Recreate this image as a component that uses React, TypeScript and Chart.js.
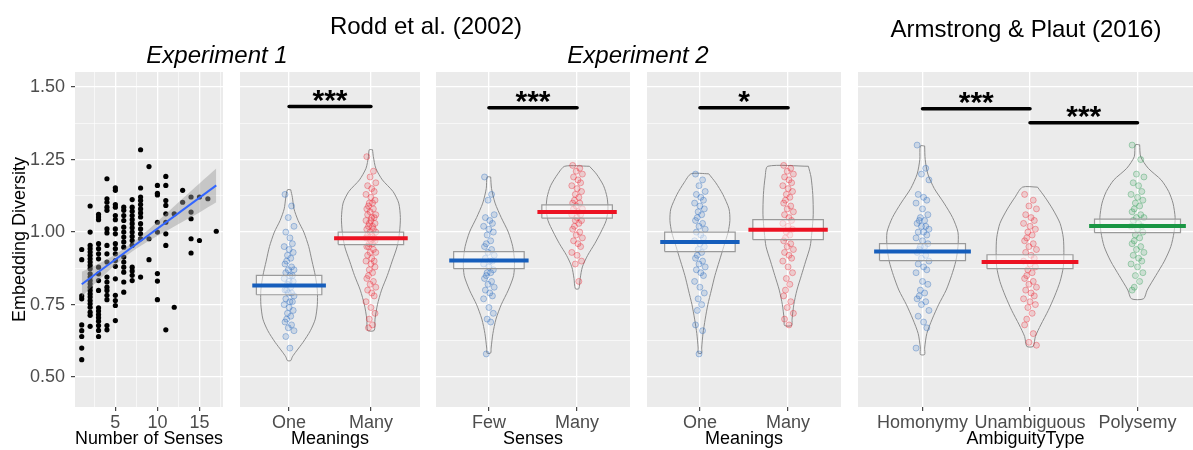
import React, { useEffect, useRef } from "react";
import { Chart, registerables } from "chart.js";

Chart.register(...registerables);

const FONT = "'Liberation Sans', Arial, sans-serif";

// ---------- shared y axis ----------
const Y_MIN = 0.397;
const Y_MAX = 1.552;
const Y_GRID = [0.5, 0.625, 0.75, 0.875, 1.0, 1.125, 1.25, 1.375, 1.5];

// ---------- Panel 1: Experiment 1 scatter ----------
const SENSES_X = [1, 2, 3, 4, 5, 6, 7, 8, 9, 10, 11, 12, 13, 14, 15, 16, 17];
const SENSES_Y: number[][] = [
  [0.94, 0.905, 0.78, 0.77, 0.68, 0.66, 0.64, 0.6, 0.56],
  [1.09, 1.0, 0.954, 0.943, 0.931, 0.92, 0.908, 0.897, 0.885, 0.874, 0.856, 0.845, 0.833, 0.822, 0.81, 0.799, 0.787, 0.776, 0.764, 0.753, 0.741, 0.724, 0.713, 0.675],
  [1.061, 1.052, 1.043, 0.96, 0.943, 0.925, 0.908, 0.879, 0.856, 0.833, 0.799, 0.739, 0.728, 0.716, 0.705, 0.693, 0.678, 0.661, 0.64],
  [1.184, 1.115, 1.103, 1.086, 1.075, 1.011, 0.997, 0.954, 0.925, 0.897, 0.845, 0.828, 0.81, 0.799, 0.782, 0.767, 0.678, 0.663],
  [1.153, 1.144, 1.095, 1.086, 1.057, 1.043, 1.011, 0.994, 0.96, 0.943, 0.925, 0.902, 0.882, 0.839, 0.782, 0.764, 0.747, 0.695],
  [1.086, 1.075, 1.057, 1.04, 1.017, 1.0, 0.983, 0.966, 0.948, 0.914, 0.897, 0.879, 0.862, 0.828, 0.793],
  [1.112, 1.086, 1.072, 1.057, 1.043, 1.029, 1.015, 1.0, 0.985, 0.971, 0.954, 0.879, 0.866, 0.851, 0.833],
  [1.284, 1.152, 1.121, 1.109, 1.095, 1.08, 1.066, 1.052, 1.029, 1.011, 0.994, 0.977, 0.845],
  [1.226, 0.977, 0.905],
  [1.161, 1.134, 1.128, 1.034, 1.0, 0.857, 0.831, 0.767],
  [1.192, 1.161, 1.109, 1.092, 1.063, 1.034, 0.994, 0.954, 0.663],
  [1.063, 0.741],
  [1.144, 1.103],
  [1.121, 1.069, 1.046, 0.977, 0.928],
  [1.121, 0.971],
  [1.115],
  [1.003],
];
const X1_GRID = [2.5, 5, 7.5, 10, 12.5, 15, 17.5];
const FIT_X = [1, 17];
const FIT_Y = [0.82, 1.161];
const BAND_X = [1, 3, 5, 7, 9, 11, 13, 15, 17];
const BAND_LO = [0.777, 0.835, 0.887, 0.933, 0.97, 1.003, 1.036, 1.068, 1.103];
const BAND_HI = [0.863, 0.891, 0.923, 0.963, 1.01, 1.063, 1.116, 1.168, 1.219];

// ---------- colours ----------
const BLUE = [22, 94, 188];
const RED = [236, 18, 34];
const GREEN = [26, 150, 68];

// jitter pattern (category units)
const JITTER = [-0.05, 0.03, -0.01, 0.06, -0.04, 0.01, 0.04, -0.06, 0.0, 0.05, -0.02, 0.02, -0.03];

// ---------- Panel 2: Experiment 1, Meanings ----------
const P2_CATS = ["One", "Many"];
const P2_MEANS = [0.816, 0.979];
const P2_CI_LO = [0.784, 0.957];
const P2_CI_HI = [0.851, 1.0];
const P2_ONE_VIOLIN = [[1.146, 0.02], [1.12, 0.04], [1.08, 0.06], [1.04, 0.11], [1.0, 0.18], [0.95, 0.24], [0.9, 0.28], [0.85, 0.32], [0.8, 0.345], [0.75, 0.345], [0.7, 0.32], [0.66, 0.26], [0.62, 0.17], [0.59, 0.09], [0.57, 0.04], [0.557, 0.02]];
const P2_MANY_VIOLIN = [[1.284, 0.02], [1.26, 0.03], [1.22, 0.06], [1.18, 0.14], [1.14, 0.27], [1.1, 0.34], [1.05, 0.36], [1.0, 0.35], [0.95, 0.32], [0.9, 0.26], [0.85, 0.2], [0.8, 0.13], [0.75, 0.08], [0.7, 0.05], [0.661, 0.04]];
const P2_ONE_PTS = [1.13, 1.09, 1.05, 1.02, 1.0, 0.98, 0.96, 0.95, 0.94, 0.93, 0.92, 0.91, 0.9, 0.89, 0.88, 0.87, 0.87, 0.86, 0.85, 0.85, 0.84, 0.83, 0.83, 0.82, 0.81, 0.8, 0.8, 0.79, 0.79, 0.78, 0.77, 0.76, 0.76, 0.75, 0.74, 0.73, 0.72, 0.71, 0.7, 0.69, 0.68, 0.67, 0.66, 0.64, 0.6];
const P2_MANY_PTS = [1.26, 1.21, 1.19, 1.17, 1.16, 1.15, 1.14, 1.13, 1.12, 1.11, 1.1, 1.1, 1.09, 1.08, 1.08, 1.07, 1.06, 1.06, 1.05, 1.05, 1.04, 1.04, 1.03, 1.03, 1.02, 1.02, 1.01, 1.01, 1.0, 1.0, 0.99, 0.99, 0.98, 0.98, 0.97, 0.97, 0.96, 0.96, 0.95, 0.95, 0.94, 0.93, 0.93, 0.92, 0.91, 0.9, 0.9, 0.89, 0.88, 0.87, 0.86, 0.85, 0.84, 0.83, 0.82, 0.81, 0.8, 0.79, 0.78, 0.76, 0.74, 0.72, 0.7, 0.68, 0.67];
const P2_SIG_FROM = [1];
const P2_SIG_TO = [2];
const P2_SIG_Y = [1.433];
const P2_SIG_LABEL = ["***"];

// ---------- Panel 3: Experiment 2, Senses ----------
const P3_CATS = ["Few", "Many"];
const P3_MEANS = [0.902, 1.069];
const P3_CI_LO = [0.874, 1.048];
const P3_CI_HI = [0.933, 1.094];
const P3_FEW_VIOLIN = [[1.19, 0.02], [1.15, 0.03], [1.1, 0.07], [1.05, 0.14], [1.0, 0.22], [0.95, 0.27], [0.9, 0.29], [0.85, 0.28], [0.8, 0.22], [0.75, 0.14], [0.7, 0.08], [0.65, 0.045], [0.6, 0.025], [0.583, 0.02]];
const P3_MANY_VIOLIN = [[1.227, 0.14], [1.2, 0.22], [1.16, 0.3], [1.12, 0.34], [1.08, 0.35], [1.04, 0.33], [1.0, 0.27], [0.96, 0.2], [0.92, 0.12], [0.88, 0.06], [0.84, 0.035], [0.805, 0.02]];
const P3_FEW_PTS = [1.19, 1.13, 1.11, 1.06, 1.05, 1.04, 1.03, 1.02, 1.01, 1.0, 0.99, 0.97, 0.96, 0.95, 0.94, 0.93, 0.92, 0.91, 0.9, 0.9, 0.89, 0.88, 0.87, 0.86, 0.86, 0.85, 0.84, 0.83, 0.82, 0.81, 0.8, 0.79, 0.78, 0.77, 0.74, 0.72, 0.7, 0.69, 0.58];
const P3_MANY_PTS = [1.23, 1.22, 1.21, 1.2, 1.19, 1.18, 1.17, 1.16, 1.15, 1.14, 1.13, 1.12, 1.11, 1.1, 1.1, 1.09, 1.08, 1.08, 1.07, 1.06, 1.06, 1.05, 1.04, 1.04, 1.03, 1.02, 1.01, 1.0, 0.99, 0.98, 0.97, 0.96, 0.95, 0.93, 0.92, 0.9, 0.89, 0.83];
const P3_SIG_FROM = [1];
const P3_SIG_TO = [2];
const P3_SIG_Y = [1.429];
const P3_SIG_LABEL = ["***"];

// ---------- Panel 4: Experiment 2, Meanings ----------
const P4_CATS = ["One", "Many"];
const P4_MEANS = [0.966, 1.008];
const P4_CI_LO = [0.933, 0.974];
const P4_CI_HI = [1.0, 1.043];
const P4_ONE_VIOLIN = [[1.201, 0.1], [1.17, 0.18], [1.13, 0.26], [1.08, 0.33], [1.04, 0.34], [1.0, 0.32], [0.95, 0.27], [0.9, 0.22], [0.85, 0.17], [0.8, 0.13], [0.75, 0.09], [0.7, 0.06], [0.65, 0.035], [0.6, 0.02], [0.583, 0.02]];
const P4_MANY_VIOLIN = [[1.227, 0.23], [1.19, 0.26], [1.13, 0.28], [1.06, 0.285], [1.0, 0.27], [0.95, 0.25], [0.9, 0.2], [0.85, 0.15], [0.8, 0.1], [0.75, 0.065], [0.7, 0.045], [0.678, 0.04]];
const P4_ONE_PTS = [1.2, 1.18, 1.16, 1.14, 1.13, 1.12, 1.11, 1.1, 1.09, 1.08, 1.07, 1.06, 1.05, 1.04, 1.03, 1.02, 1.01, 1.0, 0.99, 0.98, 0.97, 0.96, 0.95, 0.94, 0.93, 0.92, 0.91, 0.9, 0.89, 0.88, 0.87, 0.86, 0.85, 0.83, 0.81, 0.79, 0.77, 0.75, 0.73, 0.68, 0.66, 0.58];
const P4_MANY_PTS = [1.23, 1.22, 1.21, 1.2, 1.19, 1.18, 1.17, 1.16, 1.15, 1.14, 1.13, 1.12, 1.11, 1.1, 1.09, 1.08, 1.07, 1.06, 1.05, 1.04, 1.03, 1.02, 1.01, 1.0, 0.99, 0.98, 0.97, 0.96, 0.95, 0.94, 0.93, 0.92, 0.91, 0.9, 0.88, 0.86, 0.84, 0.82, 0.8, 0.78, 0.76, 0.74, 0.72, 0.7, 0.68];
const P4_SIG_FROM = [1];
const P4_SIG_TO = [2];
const P4_SIG_Y = [1.429];
const P4_SIG_LABEL = ["*"];

// ---------- Panel 5: Armstrong & Plaut ----------
const P5_CATS = ["Homonymy", "Unambiguous", "Polysemy"];
const P5_MEANS = [0.933, 0.897, 1.021];
const P5_CI_LO = [0.902, 0.874, 0.998];
const P5_CI_HI = [0.96, 0.922, 1.045];
const P5_HOM_VIOLIN = [[1.297, 0.02], [1.25, 0.025], [1.2, 0.05], [1.15, 0.11], [1.1, 0.2], [1.05, 0.28], [1.0, 0.33], [0.95, 0.33], [0.9, 0.31], [0.85, 0.27], [0.8, 0.22], [0.75, 0.15], [0.7, 0.09], [0.65, 0.04], [0.6, 0.02], [0.578, 0.02]];
const P5_UNA_VIOLIN = [[1.155, 0.07], [1.12, 0.14], [1.08, 0.21], [1.03, 0.28], [0.98, 0.31], [0.93, 0.315], [0.88, 0.31], [0.83, 0.28], [0.78, 0.23], [0.73, 0.17], [0.68, 0.1], [0.64, 0.05], [0.606, 0.03]];
const P5_POL_VIOLIN = [[1.301, 0.02], [1.26, 0.03], [1.22, 0.1], [1.18, 0.22], [1.14, 0.29], [1.1, 0.33], [1.05, 0.35], [1.0, 0.34], [0.95, 0.31], [0.9, 0.25], [0.85, 0.17], [0.8, 0.09], [0.77, 0.056]];
const P5_HOM_PTS = [1.3, 1.22, 1.2, 1.18, 1.13, 1.12, 1.11, 1.1, 1.08, 1.06, 1.05, 1.04, 1.04, 1.03, 1.02, 1.02, 1.01, 1.0, 1.0, 0.99, 0.98, 0.97, 0.96, 0.95, 0.95, 0.94, 0.93, 0.92, 0.91, 0.9, 0.89, 0.88, 0.87, 0.86, 0.83, 0.82, 0.8, 0.79, 0.78, 0.77, 0.76, 0.75, 0.73, 0.71, 0.69, 0.67, 0.6];
const P5_UNA_PTS = [1.13, 1.11, 1.09, 1.08, 1.06, 1.05, 1.04, 1.03, 1.02, 1.01, 1.0, 0.99, 0.98, 0.97, 0.96, 0.95, 0.94, 0.93, 0.92, 0.91, 0.9, 0.89, 0.88, 0.87, 0.86, 0.85, 0.84, 0.83, 0.82, 0.81, 0.8, 0.79, 0.78, 0.77, 0.76, 0.75, 0.74, 0.72, 0.7, 0.68, 0.65, 0.62, 0.61];
const P5_POL_PTS = [1.3, 1.25, 1.2, 1.19, 1.17, 1.16, 1.14, 1.13, 1.12, 1.11, 1.1, 1.09, 1.08, 1.07, 1.06, 1.05, 1.05, 1.04, 1.03, 1.02, 1.02, 1.01, 1.0, 0.99, 0.98, 0.97, 0.96, 0.95, 0.94, 0.93, 0.92, 0.91, 0.9, 0.89, 0.88, 0.86, 0.85, 0.83, 0.81, 0.8];
const P5_SIG_FROM = [1, 2];
const P5_SIG_TO = [2, 3];
const P5_SIG_Y = [1.425, 1.377];
const P5_SIG_LABEL = ["***", "***"];

// ---------- helpers ----------
const rgba = (c: number[], a: number) => `rgba(${c[0]},${c[1]},${c[2]},${a})`;
const isQuarter = (v: number) => Math.abs(v * 4 - Math.round(v * 4)) < 1e-6;
const isFive = (v: number) => Math.abs(v / 5 - Math.round(v / 5)) < 1e-6;

const bgPlugin = {
  id: "panelBg",
  beforeDraw(chart: any) {
    const { ctx, chartArea: a } = chart;
    ctx.save();
    ctx.fillStyle = "#EBEBEB";
    ctx.fillRect(a.left, a.top, a.right - a.left, a.bottom - a.top);
    ctx.restore();
  },
};

function sigTextPlugin(from: number[], to: number[], ys: number[], labels: string[]) {
  return {
    id: "sigText",
    afterDatasetsDraw(chart: any) {
      const { ctx } = chart;
      const x = chart.scales.x;
      const y = chart.scales.y;
      ctx.save();
      ctx.font = `bold 30px ${FONT}`;
      ctx.fillStyle = "#000000";
      ctx.textAlign = "center";
      ctx.textBaseline = "alphabetic";
      labels.forEach((lab, i) => {
        ctx.fillText(lab, x.getPixelForValue((from[i] + to[i]) / 2), y.getPixelForValue(ys[i]) + 3);
      });
      ctx.restore();
    },
  };
}

function yScale(showLabels: boolean) {
  return {
    type: "linear",
    min: Y_MIN,
    max: Y_MAX,
    afterBuildTicks: (s: any) => {
      s.ticks = Y_GRID.map((v) => ({ value: v }));
    },
    afterFit: (s: any) => {
      s.width = showLabels ? 75 : 0;
    },
    border: { display: false },
    grid: {
      color: "#FFFFFF",
      lineWidth: (c: any) => (c.tick && isQuarter(c.tick.value) ? 1.3 : 0.6),
      drawTicks: showLabels,
      tickLength: 4,
      tickWidth: 1.1,
      tickColor: (c: any) => (c.tick && isQuarter(c.tick.value) ? "#333333" : "rgba(0,0,0,0)"),
    },
    ticks: {
      display: showLabels,
      autoSkip: false,
      padding: 6,
      color: "#4D4D4D",
      font: { family: FONT, size: 18 },
      callback: (v: any) => (isQuarter(Number(v)) ? Number(v).toFixed(2) : ""),
    },
    title: {
      display: showLabels,
      text: "Embedding Diversity",
      color: "#000000",
      font: { family: FONT, size: 18 },
      padding: { top: 9, bottom: 0 },
    },
  };
}

function xAxisCommon(title: string) {
  return {
    afterFit: (s: any) => {
      s.height = 43;
    },
    border: { display: false },
    title: {
      display: true,
      text: title,
      color: "#000000",
      font: { family: FONT, size: 18 },
      padding: { top: 0, bottom: 0 },
    },
  };
}

const baseOptions = {
  animation: false,
  responsive: false,
  events: [],
  layout: { autoPadding: false, padding: { top: 72, left: 0, right: 0, bottom: 0 } },
  plugins: { legend: { display: false }, tooltip: { enabled: false } },
};

function scatterConfig(): any {
  const pts: { x: number; y: number }[] = [];
  SENSES_X.forEach((sx, i) => SENSES_Y[i].forEach((v) => pts.push({ x: sx, y: v })));
  return {
    type: "scatter",
    data: {
      datasets: [
        {
          type: "scatter",
          data: pts,
          pointRadius: 2.6,
          pointBackgroundColor: "#000000",
          pointBorderWidth: 0,
          order: 3,
        },
        {
          type: "line",
          data: BAND_X.map((bx, i) => ({ x: bx, y: BAND_HI[i] })),
          showLine: true,
          borderWidth: 0,
          borderColor: "rgba(0,0,0,0)",
          pointRadius: 0,
          tension: 0.3,
          fill: false,
          order: 2,
        },
        {
          type: "line",
          data: BAND_X.map((bx, i) => ({ x: bx, y: BAND_LO[i] })),
          showLine: true,
          borderWidth: 0,
          borderColor: "rgba(0,0,0,0)",
          backgroundColor: "rgba(153,153,153,0.45)",
          pointRadius: 0,
          tension: 0.3,
          fill: "-1",
          order: 2,
        },
        {
          type: "line",
          data: FIT_X.map((fx, i) => ({ x: fx, y: FIT_Y[i] })),
          showLine: true,
          borderWidth: 2,
          borderColor: "#3366FF",
          pointRadius: 0,
          fill: false,
          order: 1,
        },
      ],
    },
    options: {
      ...baseOptions,
      scales: {
        x: {
          type: "linear",
          min: 0.2,
          max: 17.8,
          afterBuildTicks: (s: any) => {
            s.ticks = X1_GRID.map((v) => ({ value: v }));
          },
          grid: {
            color: "#FFFFFF",
            lineWidth: (c: any) => (c.tick && isFive(c.tick.value) ? 1.3 : 0.6),
            tickLength: 4,
            tickWidth: 1.1,
            tickColor: (c: any) => (c.tick && isFive(c.tick.value) ? "#333333" : "rgba(0,0,0,0)"),
          },
          ticks: {
            autoSkip: false,
            maxRotation: 0,
            padding: 1,
            color: "#4D4D4D",
            font: { family: FONT, size: 18 },
            callback: (v: any) => (isFive(Number(v)) ? String(v) : ""),
          },
          ...xAxisCommon("Number of Senses"),
        },
        y: yScale(true),
      },
    },
    plugins: [bgPlugin],
  };
}

function violinConfig(
  cats: string[],
  title: string,
  means: number[],
  ciLo: number[],
  ciHi: number[],
  violins: number[][][],
  points: number[][],
  colors: number[][],
  sigFrom: number[],
  sigTo: number[],
  sigY: number[],
  sigLabel: string[],
  xMax: number
): any {
  const datasets: any[] = [];
  cats.forEach((_, i) => {
    const cx = i + 1;
    const prof = violins[i];
    const right = prof.map(([vy, hw]) => ({ x: cx + hw, y: vy }));
    const left = prof.map(([vy, hw]) => ({ x: cx - hw, y: vy })).reverse();
    const outline = [...right, ...left, right[0]];
    datasets.push({
      type: "line",
      data: outline,
      showLine: true,
      borderColor: "#8C8C8C",
      borderWidth: 1,
      pointRadius: 0,
      tension: 0.25,
      fill: false,
      order: 4,
    });
    datasets.push({
      type: "scatter",
      data: points[i].map((v, k) => ({ x: cx + JITTER[k % JITTER.length], y: v })),
      pointRadius: 3,
      pointBackgroundColor: rgba(colors[i], 0.15),
      pointBorderColor: rgba(colors[i], 0.32),
      pointBorderWidth: 1,
      order: 3,
    });
    datasets.push({
      type: "line",
      data: [
        { x: cx - 0.4, y: ciLo[i] },
        { x: cx + 0.4, y: ciLo[i] },
        { x: cx + 0.4, y: ciHi[i] },
        { x: cx - 0.4, y: ciHi[i] },
        { x: cx - 0.4, y: ciLo[i] },
      ],
      showLine: true,
      borderColor: "#9A9A9A",
      borderWidth: 1.2,
      backgroundColor: "rgba(255,255,255,0.5)",
      pointRadius: 0,
      tension: 0,
      fill: "shape",
      order: 2,
    });
    datasets.push({
      type: "line",
      data: [
        { x: cx - 0.45, y: means[i] },
        { x: cx + 0.45, y: means[i] },
      ],
      showLine: true,
      borderColor: rgba(colors[i], 1),
      borderWidth: 4,
      borderCapStyle: "butt",
      pointRadius: 0,
      fill: false,
      order: 1,
    });
  });
  sigFrom.forEach((f, i) => {
    datasets.push({
      type: "line",
      data: [
        { x: f, y: sigY[i] },
        { x: sigTo[i], y: sigY[i] },
      ],
      showLine: true,
      borderColor: "#000000",
      borderWidth: 3.5,
      borderCapStyle: "round",
      pointRadius: 0,
      fill: false,
      order: 0,
    });
  });
  const tickVals = cats.map((_, i) => i + 1);
  return {
    type: "scatter",
    data: { datasets },
    options: {
      ...baseOptions,
      scales: {
        x: {
          type: "linear",
          min: 0.4,
          max: xMax,
          afterBuildTicks: (s: any) => {
            s.ticks = tickVals.map((v) => ({ value: v }));
          },
          grid: {
            color: "#FFFFFF",
            lineWidth: 1.3,
            tickLength: 4,
            tickWidth: 1.1,
            tickColor: "#333333",
          },
          ticks: {
            autoSkip: false,
            maxRotation: 0,
            padding: 1,
            color: "#4D4D4D",
            font: { family: FONT, size: 18 },
            callback: (v: any) => cats[Math.round(Number(v)) - 1] ?? "",
          },
          ...xAxisCommon(title),
        },
        y: yScale(false),
      },
    },
    plugins: [bgPlugin, sigTextPlugin(sigFrom, sigTo, sigY, sigLabel)],
  };
}

const LAYOUT = [
  { left: 0, width: 223 },
  { left: 240, width: 180 },
  { left: 436, width: 194 },
  { left: 647, width: 194 },
  { left: 858, width: 335 },
];

function buildConfigs(): any[] {
  return [
    scatterConfig(),
    violinConfig(P2_CATS, "Meanings", P2_MEANS, P2_CI_LO, P2_CI_HI, [P2_ONE_VIOLIN, P2_MANY_VIOLIN], [P2_ONE_PTS, P2_MANY_PTS], [BLUE, RED], P2_SIG_FROM, P2_SIG_TO, P2_SIG_Y, P2_SIG_LABEL, 2.6),
    violinConfig(P3_CATS, "Senses", P3_MEANS, P3_CI_LO, P3_CI_HI, [P3_FEW_VIOLIN, P3_MANY_VIOLIN], [P3_FEW_PTS, P3_MANY_PTS], [BLUE, RED], P3_SIG_FROM, P3_SIG_TO, P3_SIG_Y, P3_SIG_LABEL, 2.6),
    violinConfig(P4_CATS, "Meanings", P4_MEANS, P4_CI_LO, P4_CI_HI, [P4_ONE_VIOLIN, P4_MANY_VIOLIN], [P4_ONE_PTS, P4_MANY_PTS], [BLUE, RED], P4_SIG_FROM, P4_SIG_TO, P4_SIG_Y, P4_SIG_LABEL, 2.6),
    violinConfig(P5_CATS, "AmbiguityType", P5_MEANS, P5_CI_LO, P5_CI_HI, [P5_HOM_VIOLIN, P5_UNA_VIOLIN, P5_POL_VIOLIN], [P5_HOM_PTS, P5_UNA_PTS, P5_POL_PTS], [BLUE, RED, GREEN], P5_SIG_FROM, P5_SIG_TO, P5_SIG_Y, P5_SIG_LABEL, 0.4 + 335 / 107.5),
  ];
}

const titleStyle = (x: number, y: number, italic = false): React.CSSProperties => ({
  position: "absolute",
  left: x,
  top: y,
  transform: "translate(-50%, -50%)",
  fontFamily: FONT,
  fontSize: 24,
  lineHeight: "1",
  fontStyle: italic ? "italic" : "normal",
  color: "#000000",
  whiteSpace: "nowrap",
});

export default function App() {
  const r0 = useRef<HTMLCanvasElement>(null);
  const r1 = useRef<HTMLCanvasElement>(null);
  const r2 = useRef<HTMLCanvasElement>(null);
  const r3 = useRef<HTMLCanvasElement>(null);
  const r4 = useRef<HTMLCanvasElement>(null);
  const refs = [r0, r1, r2, r3, r4];

  useEffect(() => {
    const cfgs = buildConfigs();
    const charts = cfgs.map((cfg, i) => new Chart(refs[i].current as HTMLCanvasElement, cfg));
    return () => charts.forEach((c) => c.destroy());
  }, []);

  return (
    <div style={{ position: "absolute", left: 0, top: 0, width: 1193, height: 450, background: "#FFFFFF", overflow: "hidden" }}>
      {LAYOUT.map((l, i) => (
        <canvas
          key={i}
          ref={refs[i]}
          width={l.width}
          height={450}
          style={{ position: "absolute", left: l.left, top: 0, width: l.width, height: 450 }}
        />
      ))}
      <div style={titleStyle(426, 26)}>Rodd et al. (2002)</div>
      <div style={titleStyle(1026, 29)}>Armstrong &amp; Plaut (2016)</div>
      <div style={titleStyle(217, 55, true)}>Experiment 1</div>
      <div style={titleStyle(638, 55, true)}>Experiment 2</div>
    </div>
  );
}
